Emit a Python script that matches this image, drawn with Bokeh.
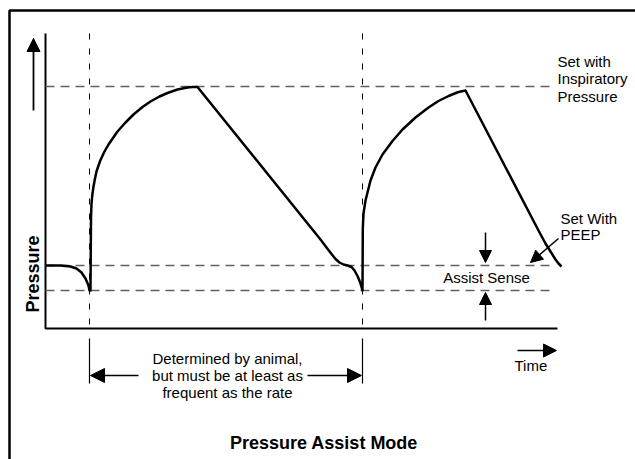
import numpy as np
from bokeh.plotting import figure
from bokeh.models import Range1d, Arrow, NormalHead
from bokeh.core.properties import value
from bokeh.embed import file_html
from bokeh.resources import INLINE

# ---- data (time, pressure in diagram units; origin at axes corner) ----
wave_t = [0, 15, 25, 31, 36, 40, 43, 44,
          45, 45.5, 46, 47, 48, 49.5, 51, 53, 55, 59, 63, 72, 80, 88, 97, 105, 114, 122, 132, 142, 147, 152,
          275, 281, 286, 290, 294, 298, 302, 306, 309, 312, 314.5, 316.3, 317,
          317.3, 318, 320, 325, 330, 337, 347, 357, 370, 383, 393, 403, 413, 420,
          493, 500, 505, 510, 513, 516]
wave_p = [63, 63, 62, 60, 56, 50, 43, 38,
          38, 110, 125, 135, 142, 150, 157, 163, 168.5, 177, 184, 197, 206, 214, 221.5, 227, 232, 235.5, 239, 241, 241.5, 241.5,
          89, 81, 74.5, 69.5, 66, 64, 63, 61.5, 58, 52.5, 46.5, 40.5, 38,
          100, 115, 128, 148, 161, 174, 187.5, 199, 211, 221, 227.5, 232.5, 236.5, 238,
          98, 85, 77, 69, 65, 62]

inspiratory_level = 242
peep_level = 63
assist_level = 38
trigger_times = [44, 317]

axis_top = 295
axis_right = 512
dash_right = 510

FONT = "Liberation Sans"

W, H = 635, 459
OX, OY = 45, 328   # canvas pixel position of the axes corner
p = figure(width=W, height=H, output_backend="svg", toolbar_location=None,
           x_range=Range1d(-OX, W - OX), y_range=Range1d(OY - H, OY),
           x_axis_location=None, y_axis_location=None, min_border=0)
p.grid.visible = False
p.outline_line_color = None
p.background_fill_color = "white"
p.border_fill_color = "white"

# outer frame (left & top visible; cut at right/bottom)
p.line([-36, -36, 600], [-140, 318, 318], line_color="black", line_width=2.5)

# axes
p.line([0, 0, axis_right], [axis_top, 0, 0], line_color="black", line_width=2)

# horizontal dashed reference levels
for lvl in [inspiratory_level, peep_level, assist_level]:
    p.line([0, dash_right], [lvl, lvl], line_color="#606060", line_width=1.3, line_dash="9 6")

# vertical dashed trigger lines
for t in trigger_times:
    p.line([t, t], [axis_top, 0], line_color="black", line_width=1, line_dash="6 9")

# waveform
p.line(wave_t, wave_p, line_color="black", line_width=2.5, line_join="round")

def arrow(x0, y0, x1, y1, size=13, lw=1.5):
    p.add_layout(Arrow(end=NormalHead(size=size, fill_color="black", line_color="black", line_width=1),
                       x_start=x0, y_start=y0, x_end=x1, y_end=y1,
                       line_color="black", line_width=lw))

# left "increasing pressure" arrow
arrow(-12, 218, -12, 290, size=13, lw=1.8)

# Time arrow
arrow(472, -22, 511, -22, size=13, lw=1.5)

# assist sense arrows
arrow(440, 96, 440, 66, size=12, lw=1.5)
arrow(440, 8, 440, 36, size=12, lw=1.5)

# PEEP pointer
arrow(513, 90, 485, 66, size=12, lw=1.5)

# interval ticks and arrows
for t in trigger_times:
    p.line([t, t], [-10, -55], line_color="black", line_width=1.2)
arrow(93, -47, 45, -47, size=14, lw=1.5)
arrow(262, -47, 316, -47, size=14, lw=1.5)

def txt(x, y, s, size="15px", align="left", style="normal", angle=0, baseline="alphabetic"):
    p.text(x=[x], y=[y], text=[s], text_font=value(FONT), text_font_size=size,
           text_align=align, text_baseline=baseline, text_font_style=style,
           text_color="black", angle=angle)

txt(512, 267, "Set with")
txt(512, 250, "Inspiratory")
txt(512, 232.5, "Pressure")
txt(515, 110.5, "Set With")
txt(515, 94, "PEEP")
txt(441, 51.5, "Assist Sense", align="center")
txt(469, -37, "Time")
txt(182, -29.5, "Determined by animal,", align="center")
txt(182, -46.5, "but must be at least as", align="center")
txt(182, -63.5, "frequent as the rate", align="center")
txt(278.5, -114, "Pressure Assist Mode", size="18px", align="center", style="bold")
txt(-12.5, 54.5, "Pressure", size="18px", align="center", style="bold", angle=np.pi / 2)

open("out.html", "w").write(file_html(p, INLINE))
